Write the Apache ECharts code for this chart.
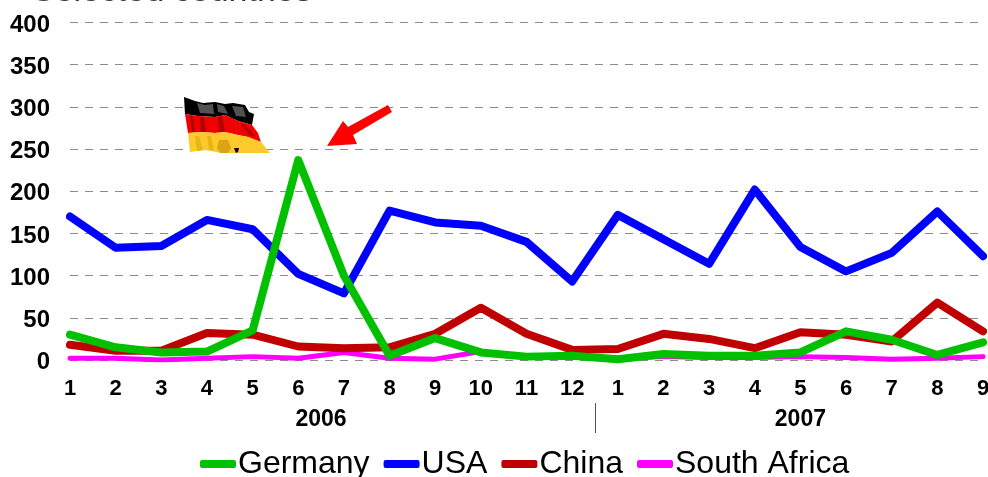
<!DOCTYPE html>
<html><head><meta charset="utf-8">
<style>html,body{margin:0;padding:0;background:#fff;overflow:hidden}#c{width:988px;height:477px}</style>
<script src="https://cdn.jsdelivr.net/npm/echarts@6/dist/echarts.min.js"></script>
</head><body><div id="c"></div>
<script>
const months=['1','2','3','4','5','6','7','8','9','10','11','12','1','2','3','4','5','6','7','8','9'];
const germany=[30,15,9,10,35,237,100,5,26,9,4,5,1,7,5,5,9,34,24,6,21];
const usa=[170,133,135,166,155,102,79,177,163,159,140,93,172,143,114,202,134,105,127,176,123];
const china=[18,11,11,32,30,16,14,15,31,62,31,12,13,31,25,14,33,30,22,68,34];
const southAfrica=[2,2,0,2,4,2,9,2,1,10,4,5,2,4,3,3,4,3,1,2,4];
const yearPositions=[5.5,16];
const yearNames={5.5:'2006',16:'2007'};
const yearSeparators=[11.5];
const font='"Liberation Sans",Arial,sans-serif';
const poly=(pts,fill,z)=>({type:'polygon',shape:{points:pts},style:{fill},z:z||20,silent:true});
const line=(name,data,color,width,z)=>({name,type:'line',data,symbol:'none',z,xAxisIndex:0,yAxisIndex:0,
  lineStyle:{color,width,cap:'round',join:'round'},itemStyle:{color},animation:false});
const chart=echarts.init(document.getElementById('c'),null,{renderer:'canvas'});
chart.setOption({
  animation:false,backgroundColor:'#fff',
  grid:{left:70,right:5,top:22.5,height:337.5,containLabel:false,outerBoundsMode:'none'},
  xAxis:[
    {type:'category',data:months,boundaryGap:false,position:'bottom',
     axisLine:{show:false},axisTick:{show:false},splitLine:{show:false},
     axisLabel:{interval:0,color:'#000',fontFamily:font,fontWeight:'bold',fontSize:22,margin:18}},
    {type:'value',min:0,max:20,position:'bottom',offset:43,
     axisLine:{show:false},splitLine:{show:false},
     axisTick:{show:true,customValues:yearSeparators,length:30,inside:false,lineStyle:{color:'#555',width:1}},
     axisLabel:{customValues:yearPositions,formatter:v=>yearNames[v]||'',hideOverlap:false,showMinLabel:true,showMaxLabel:true,
       color:'#000',fontFamily:font,fontWeight:'bold',fontSize:23,margin:5}}
  ],
  yAxis:{type:'value',min:0,max:400,interval:50,
    axisLine:{show:false},axisTick:{show:false},
    axisLabel:{margin:20,formatter:v=>'{a|'+v+'}',
      rich:{a:{color:'#000',fontFamily:font,fontWeight:'bold',fontSize:24,padding:[5,0,0,0]}}},
    splitLine:{show:true,lineStyle:{color:'#8c8c8c',width:1,type:[8,7]}}},
  legend:{left:200,top:448,padding:0,itemWidth:36,itemHeight:8,itemGap:14,icon:'roundRect',
    data:['Germany','USA','China','South Africa'],
    textStyle:{color:'#000',fontFamily:font,fontSize:32,padding:[0,0,0,-3]}},
  series:[
    line('South Africa',southAfrica,'#ff00ff',5,2),
    line('USA',usa,'#0000ff',8,3),
    line('China',china,'#c00000',8,4),
    line('Germany',germany,'#00c000',8,5)
  ],
  graphic:[
    {type:'text',x:32,y:-25,silent:true,style:{text:'Selected countries',fill:'#333',font:'34px '+font}},
    poly([[388,105],[392,112],[353,135],[357,144],[327,146],[343,121],[348,127]],'#ff0000'),
    poly([[184,97],[195,101],[203,103],[215,102],[225,104],[233,103],[245,105],[249,112],[254,114],[252,125],[238,121],[225,115],[215,117],[198,116],[185,114]],'#000000'),
    poly([[197,103],[205,105],[213,104],[214,114],[200,113]],'#4e5252',21),
    poly([[217,104],[224,106],[228,114],[218,112]],'#4e5252',21),
    poly([[232,106],[243,107],[246,117],[236,116]],'#4e5252',21),
    poly([[185,114],[198,116],[215,117],[225,115],[238,121],[252,125],[258,133],[261,142],[248,137],[238,135],[225,132],[215,133],[202,132],[188,133]],'#f00000'),
    poly([[190,116],[193,116],[195,132],[192,132]],'#b00000',21),
    poly([[200,117],[204,117],[206,132],[201,132]],'#b00000',21),
    poly([[218,117],[222,116],[225,131],[219,132]],'#b00000',21),
    poly([[240,123],[245,125],[255,136],[250,136]],'#b00000',21),
    poly([[188,133],[202,132],[215,133],[225,132],[238,135],[248,137],[261,142],[270,153],[238,153],[222,153],[205,150],[190,152]],'#fdc92b'),
    poly([[219,140],[228,140],[231,148],[228,153],[220,153],[217,148]],'#d9a514',21),
    poly([[195,136],[199,136],[203,150],[197,151]],'#e8b41c',21),
    poly([[207,136],[211,136],[214,150],[209,150]],'#e8b41c',21),
    poly([[234,148],[239,148],[238,152],[236,153]],'#000000',21)
  ]
});
</script></body></html>
